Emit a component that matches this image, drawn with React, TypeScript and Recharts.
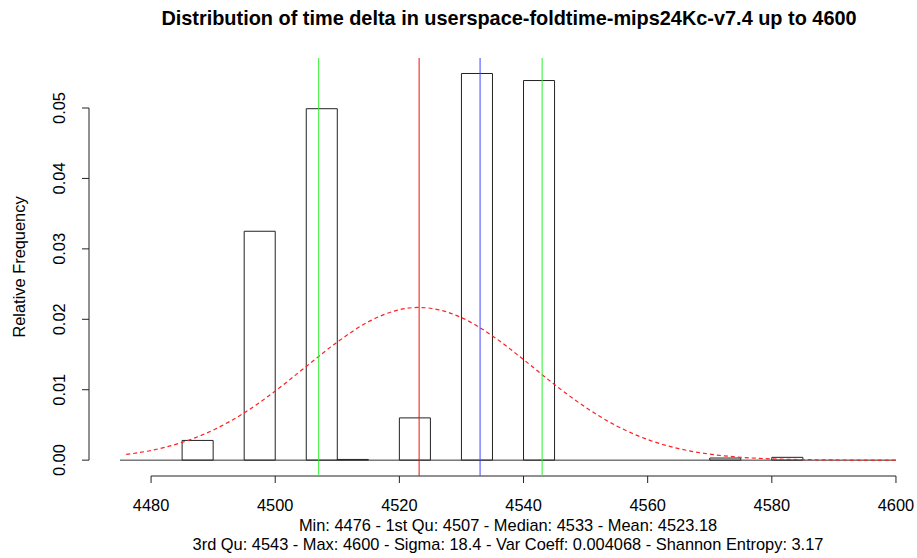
import React from 'react';
import { ComposedChart, XAxis, YAxis, Line, ReferenceArea, ReferenceLine } from 'recharts';

const titleText = 'Distribution of time delta in userspace-foldtime-mips24Kc-v7.4 up to 4600';
const subtitleLine1 = 'Min: 4476 - 1st Qu: 4507 - Median: 4533 - Mean: 4523.18';
const subtitleLine2 = '3rd Qu: 4543 - Max: 4600 - Sigma: 18.4 - Var Coeff: 0.004068 - Shannon Entropy: 3.17';
const yAxisTitle = 'Relative Frequency';

const binWidth = 5;
const binStarts = [
  4475, 4480, 4485, 4490, 4495, 4500, 4505, 4510, 4515, 4520, 4525, 4530, 4535,
  4540, 4545, 4550, 4555, 4560, 4565, 4570, 4575, 4580, 4585, 4590, 4595,
];
const binDensities = [
  0, 0, 0.0028, 0, 0.0325, 0, 0.0499, 0.0001, 0, 0.006, 0, 0.0549, 0,
  0.0539, 0, 0, 0, 0, 0, 0.0003, 0, 0.0004, 0, 0, 0,
];

const curveX = [
  4476, 4480, 4485, 4490, 4495, 4500, 4505, 4510, 4515, 4520, 4523, 4525, 4530,
  4535, 4540, 4545, 4550, 4555, 4560, 4565, 4570, 4575, 4580, 4585, 4590, 4595, 4600,
];
const curveDensity = [
  0.00081, 0.00138, 0.00252, 0.00427, 0.00671, 0.00981, 0.01331, 0.01677, 0.01964,
  0.02136, 0.02168, 0.02157, 0.02024, 0.01764, 0.01428, 0.01073, 0.0075, 0.00486,
  0.00293, 0.00164, 0.00085, 0.00041, 0.00018, 0.00008, 0.00003, 0.00001, 0.0,
];

const firstQuartile = 4507;
const meanValue = 4523.18;
const medianValue = 4533;
const thirdQuartile = 4543;

const xTicks = [4480, 4500, 4520, 4540, 4560, 4580, 4600];
const yTicks = [0, 0.01, 0.02, 0.03, 0.04, 0.05];
const xDomain = [4470, 4605];
const yDomain = [-0.00225, 0.0571];

const FONT = '"Liberation Sans", Arial, Helvetica, sans-serif';
const LABEL_SIZE = 16.4;

const chartData = curveX.map((x, i) => ({ x, density: curveDensity[i] }));

function YTick(props: any) {
  const { x, y, payload } = props;
  const bx = x - 15;
  return (
    <text
      x={bx}
      y={y}
      transform={`rotate(-90 ${bx} ${y})`}
      textAnchor="middle"
      fontSize={LABEL_SIZE}
      fontFamily={FONT}
      fill="#000"
    >
      {Number(payload.value).toFixed(2)}
    </text>
  );
}

export default function App() {
  return (
    <div
      style={{
        position: 'absolute',
        left: 0,
        top: 0,
        width: 917,
        height: 558,
        overflow: 'hidden',
        background: '#fff',
        fontFamily: FONT,
      }}
    >
      <ComposedChart
        width={940}
        height={558}
        data={chartData}
        margin={{ top: 58, right: 13, bottom: 52, left: 29 }}
      >
        <XAxis
          dataKey="x"
          type="number"
          domain={xDomain}
          ticks={xTicks}
          allowDataOverflow
          interval={0}
          axisLine={false}
          tickLine={{ stroke: '#222' }}
          tickSize={7}
          tickMargin={16}
          height={30}
          tick={{ fontSize: LABEL_SIZE, fill: '#000', fontFamily: FONT }}
        />
        <YAxis
          type="number"
          domain={yDomain}
          ticks={yTicks}
          allowDataOverflow
          interval={0}
          axisLine={false}
          tickLine={{ stroke: '#222' }}
          tickSize={7}
          width={60}
          tick={<YTick />}
        />
        <ReferenceLine
          segment={[
            { x: xTicks[0], y: yDomain[0] },
            { x: xTicks[xTicks.length - 1], y: yDomain[0] },
          ]}
          stroke="#222"
          ifOverflow="visible"
        />
        <ReferenceLine
          segment={[
            { x: xDomain[0], y: yTicks[0] },
            { x: xDomain[0], y: yTicks[yTicks.length - 1] },
          ]}
          stroke="#222"
          ifOverflow="visible"
        />
        <ReferenceLine
          segment={[
            { x: binStarts[0], y: 0 },
            { x: binStarts[binStarts.length - 1] + binWidth, y: 0 },
          ]}
          stroke="#333"
          ifOverflow="visible"
        />
        {binStarts.map((s, i) =>
          binDensities[i] > 0 ? (
            <ReferenceArea
              key={s}
              x1={s}
              x2={s + binWidth}
              y1={0}
              y2={binDensities[i]}
              fill="none"
              fillOpacity={0}
              stroke="#222"
              strokeWidth={1}
              strokeOpacity={1}
              ifOverflow="visible"
            />
          ) : null
        )}
        <Line
          dataKey="density"
          type="monotone"
          stroke="#ff2020"
          strokeWidth={1.2}
          strokeDasharray="4 3"
          dot={false}
          activeDot={false}
          isAnimationActive={false}
        />
        <ReferenceLine x={firstQuartile} stroke="#33ee33" strokeWidth={1} />
        <ReferenceLine x={meanValue} stroke="#ee1111" strokeWidth={1} />
        <ReferenceLine x={medianValue} stroke="#4444ff" strokeWidth={1} />
        <ReferenceLine x={thirdQuartile} stroke="#33ee33" strokeWidth={1} />
      </ComposedChart>
      <svg
        width={917}
        height={558}
        style={{ position: 'absolute', left: 0, top: 0, pointerEvents: 'none' }}
      >
        <text x={509} y={25} textAnchor="middle" fontSize={19.9} fontWeight="bold" fontFamily={FONT} fill="#000">
          {titleText}
        </text>
        <text x={508} y={531} textAnchor="middle" fontSize={LABEL_SIZE} fontFamily={FONT} fill="#000">
          {subtitleLine1}
        </text>
        <text x={508} y={550} textAnchor="middle" fontSize={LABEL_SIZE} fontFamily={FONT} fill="#000">
          {subtitleLine2}
        </text>
        <text
          x={25}
          y={267}
          transform="rotate(-90 25 267)"
          textAnchor="middle"
          fontSize={LABEL_SIZE}
          fontFamily={FONT}
          fill="#000"
        >
          {yAxisTitle}
        </text>
      </svg>
    </div>
  );
}
